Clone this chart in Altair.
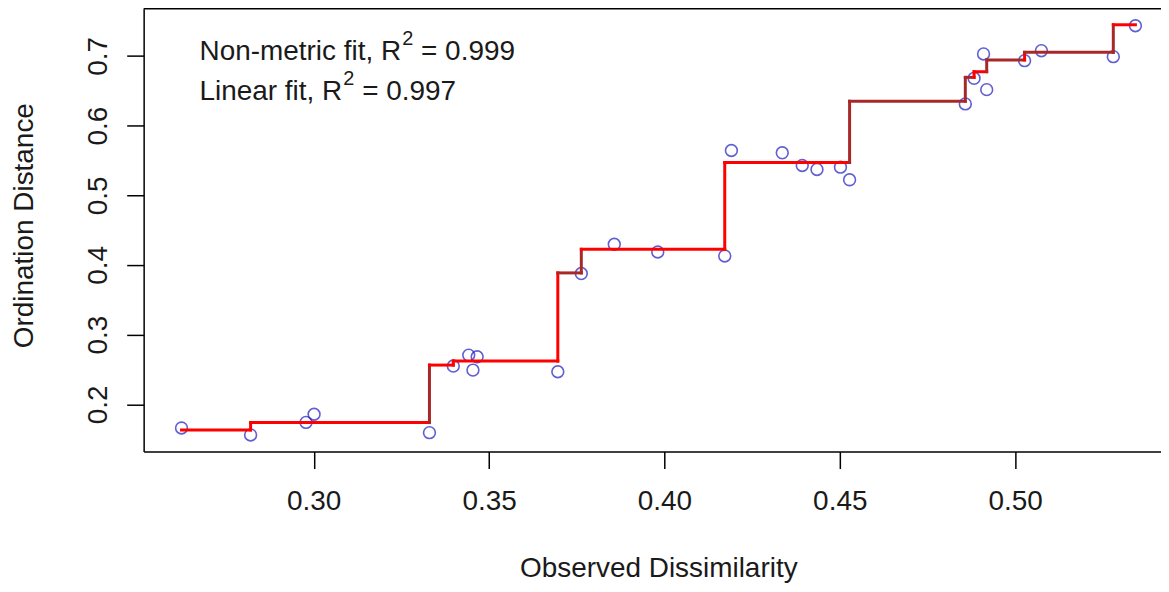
import altair as alt
import pandas as pd

# ---- data (Shepard / stress plot) ----
diss = [0.2623, 0.2820, 0.2978, 0.3001, 0.3330, 0.3398, 0.3442, 0.3466, 0.3454, 0.3696,
        0.3763, 0.3857, 0.3981, 0.4172, 0.4191, 0.4336, 0.4393, 0.4435, 0.4502, 0.4528,
        0.4858, 0.4883, 0.4910, 0.4919, 0.5027, 0.5075, 0.5280, 0.5343]
dist = [0.1660, 0.1560, 0.1740, 0.1857, 0.1593, 0.2549, 0.2706, 0.2682, 0.2491, 0.2467,
        0.3877, 0.4297, 0.4186, 0.4129, 0.5643, 0.5610, 0.5428, 0.5371, 0.5404, 0.5223,
        0.6312, 0.6679, 0.7029, 0.6517, 0.6933, 0.7076, 0.6990, 0.7434]

# monotone (step) fit
step_x = [0.2623, 0.2820, 0.3330, 0.3398, 0.3696, 0.3763, 0.4172, 0.4528, 0.4858, 0.4883,
          0.4919, 0.5027, 0.5280, 0.5343]
step_y = [0.1632, 0.1737, 0.2563, 0.2620, 0.3886, 0.4225, 0.5471, 0.6350, 0.6693, 0.6774,
          0.6943, 0.7052, 0.7448, 0.7448]
# shade of each piece of the step line: h0, v0, h1, v1, ... h12
seg_shade = ["red", "red", "red", "dark", "red", "red", "red", "red", "dark", "dark",
             "red", "red", "red", "dark", "dark", "dark", "dark", "red", "red", "dark",
             "dark", "red", "dark", "dark", "red"]

x_ticks = [0.30, 0.35, 0.40, 0.45, 0.50]
y_ticks = [0.2, 0.3, 0.4, 0.5, 0.6, 0.7]

nonmetric_r2 = "0.999"
linear_r2 = "0.997"

W, H = 1020, 444
x_dom = [0.2515, 0.5416]
y_dom = [0.1321, 0.7678]
FONT = "Liberation Sans"
FS = 28
SUP = 20
TXT = "#1a1a1a"

pts = pd.DataFrame({"diss": diss, "dist": dist})

segs = []
k = 0
n = len(step_x)
for i in range(n - 1):
    segs.append(dict(x=step_x[i], x2=step_x[i + 1], y=step_y[i], y2=step_y[i], shade=seg_shade[k]))
    k += 1
    if i < n - 2:
        segs.append(dict(x=step_x[i + 1], x2=step_x[i + 1], y=step_y[i], y2=step_y[i + 1],
                         shade=seg_shade[k]))
        k += 1
segdf = pd.DataFrame(segs)

xs = alt.Scale(domain=x_dom, nice=False, zero=False)
ys = alt.Scale(domain=y_dom, nice=False, zero=False)

x_axis = alt.Axis(values=x_ticks, format=".2f", title="Observed Dissimilarity",
                  tickSize=17, labelPadding=19,
                  titleX=516, titleY=125, titleAlign="center", titleBaseline="alphabetic")
y_axis = alt.Axis(values=y_ticks, format=".1f", title="Ordination Distance",
                  tickSize=17, labelPadding=20, labelAngle=270,
                  labelAlign="center", labelBaseline="alphabetic",
                  titleX=-119, titleY=217, titleAngle=270, titleAlign="center",
                  titleBaseline="middle")

points = alt.Chart(pts).mark_point(
    shape="circle", filled=False, size=140, strokeWidth=1.6, color="#1c1cc0"
).encode(
    x=alt.X("diss:Q", scale=xs, axis=x_axis),
    y=alt.Y("dist:Q", scale=ys, axis=y_axis),
)

line = alt.Chart(segdf).mark_rule(strokeWidth=3, strokeCap="square").encode(
    x=alt.X("x:Q", scale=xs, axis=x_axis),
    x2="x2:Q",
    y=alt.Y("y:Q", scale=ys, axis=y_axis),
    y2="y2:Q",
    color=alt.Color("shade:N", scale=alt.Scale(domain=["red", "dark"],
                                                range=["#FF0000", "#A82828"]), legend=None),
)

# annotation text with superscript 2 (positions from Arial metrics)
cw = {"N": 722, "o": 556, "n": 556, "-": 333, "m": 833, "e": 556, "t": 278, "r": 333,
      "i": 222, "c": 500, " ": 278, "f": 278, ",": 278, "R": 722, "L": 556, "a": 556}


def tw(s, fs):
    return sum(cw.get(ch, 556) for ch in s) / 1000.0 * fs


def label_layers(prefix, value, yc):
    x0 = 56
    xs2 = x0 + tw(prefix, FS) + 1
    xr = xs2 + 0.556 * SUP + 0.278 * FS
    base = dict(font=FONT, align="left", baseline="middle", color=TXT)
    a = alt.Chart(pts.head(1)).mark_text(fontSize=FS, text=prefix, **base).encode(
        x=alt.value(x0), y=alt.value(yc))
    b = alt.Chart(pts.head(1)).mark_text(fontSize=SUP, text="2", **base).encode(
        x=alt.value(xs2), y=alt.value(yc - 13))
    c = alt.Chart(pts.head(1)).mark_text(fontSize=FS, text="= " + value, **base).encode(
        x=alt.value(xr), y=alt.value(yc))
    return [a, b, c]


ann = label_layers("Non-metric fit, R", nonmetric_r2, 43) + label_layers("Linear fit, R", linear_r2, 83)

top = alt.Chart(pts.head(1)).mark_rule(color="#000", strokeWidth=1.5).encode(
    x=alt.value(0), x2=alt.value(W), y=alt.value(0))

chart = alt.layer(points, line, top, *ann).properties(
    width=W, height=H,
    autosize=alt.AutoSizeParams(type="none"),
    padding={"left": 136, "top": 0, "right": 0, "bottom": 132},
).configure_axis(
    grid=False, domainColor="#000", domainWidth=1.5, tickColor="#000", tickWidth=1.5,
    labelFont=FONT, labelFontSize=FS, labelColor=TXT,
    titleFont=FONT, titleFontSize=FS, titleFontWeight="normal", titleColor=TXT,
).configure_view(stroke=None)

chart.save("out.html", embed_options={"renderer": "svg", "actions": False})
